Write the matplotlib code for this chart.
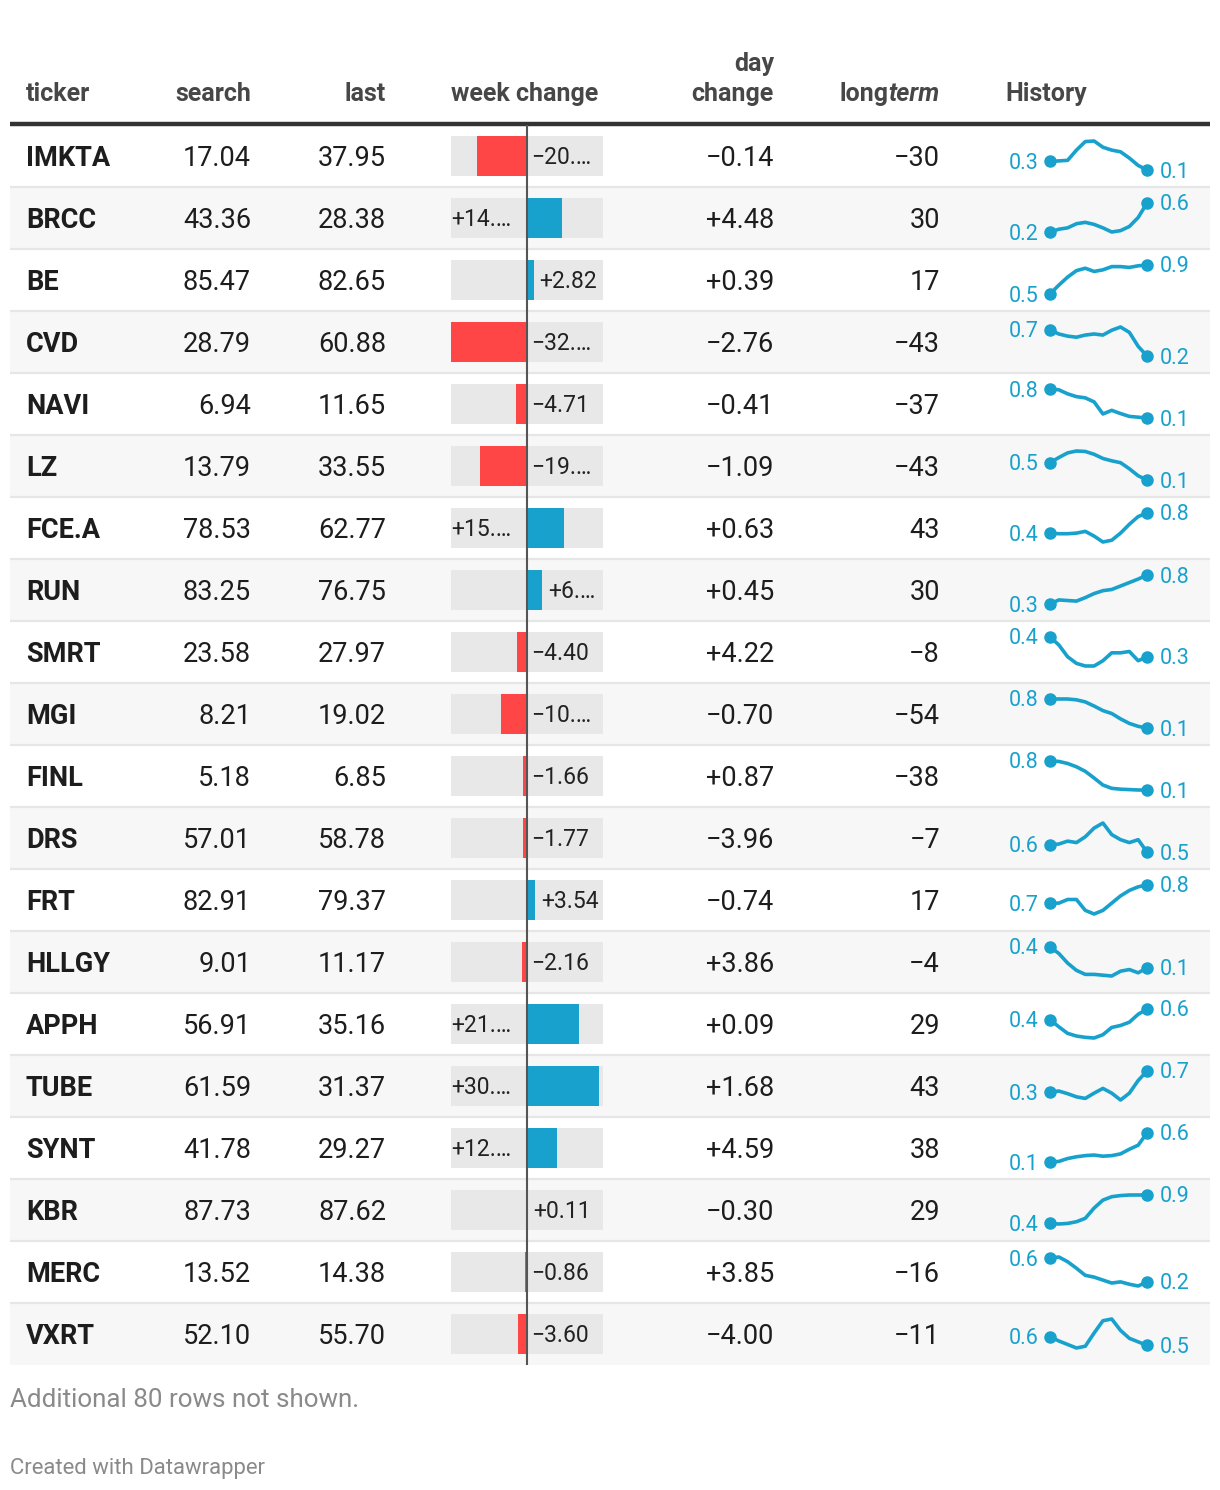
import matplotlib

matplotlib.use("Agg")
import matplotlib.pyplot as plt
from matplotlib.patches import Rectangle

plt.rcParams["font.family"] = ["Roboto", "DejaVu Sans"]

tickers = ["IMKTA", "BRCC", "BE", "CVD", "NAVI", "LZ", "FCE.A", "RUN", "SMRT", "MGI",
           "FINL", "DRS", "FRT", "HLLGY", "APPH", "TUBE", "SYNT", "KBR", "MERC", "VXRT"]
search = [17.04, 43.36, 85.47, 28.79, 6.94, 13.79, 78.53, 83.25, 23.58, 8.21,
          5.18, 57.01, 82.91, 9.01, 56.91, 61.59, 41.78, 87.73, 13.52, 52.10]
last = [37.95, 28.38, 82.65, 60.88, 11.65, 33.55, 62.77, 76.75, 27.97, 19.02,
        6.85, 58.78, 79.37, 11.17, 35.16, 31.37, 29.27, 87.62, 14.38, 55.70]
week_change = [-20.91, 14.98, 2.82, -32.09, -4.71, -19.76, 15.76, 6.50, -4.40, -10.81,
               -1.66, -1.77, 3.54, -2.16, 21.75, 30.22, 12.51, 0.11, -0.86, -3.60]
day_change = [-0.14, 4.48, 0.39, -2.76, -0.41, -1.09, 0.63, 0.45, 4.22, -0.70,
              0.87, -3.96, -0.74, 3.86, 0.09, 1.68, 4.59, -0.30, 3.85, -4.00]
longterm = [-30, 30, 17, -43, -37, -43, 43, 30, -8, -54,
            -38, -7, 17, -4, 29, 43, 38, 29, -16, -11]
history = [
    [0.27, 0.28, 0.29, 0.47, 0.62, 0.63, 0.52, 0.47, 0.44, 0.33, 0.20, 0.12],
    [0.20, 0.24, 0.26, 0.32, 0.34, 0.31, 0.26, 0.20, 0.22, 0.28, 0.41, 0.62],
    [0.52, 0.63, 0.73, 0.81, 0.84, 0.80, 0.82, 0.86, 0.86, 0.85, 0.87, 0.88],
    [0.67, 0.59, 0.55, 0.53, 0.57, 0.59, 0.57, 0.66, 0.72, 0.62, 0.36, 0.18],
    [0.82, 0.80, 0.70, 0.63, 0.60, 0.50, 0.20, 0.29, 0.21, 0.14, 0.12, 0.10],
    [0.49, 0.60, 0.70, 0.74, 0.73, 0.67, 0.58, 0.53, 0.49, 0.36, 0.21, 0.12],
    [0.44, 0.43, 0.43, 0.44, 0.47, 0.39, 0.29, 0.32, 0.44, 0.59, 0.72, 0.78],
    [0.30, 0.37, 0.36, 0.35, 0.41, 0.48, 0.53, 0.55, 0.61, 0.67, 0.73, 0.80],
    [0.42, 0.36, 0.27, 0.22, 0.20, 0.20, 0.24, 0.30, 0.30, 0.31, 0.24, 0.27],
    [0.80, 0.80, 0.80, 0.78, 0.73, 0.63, 0.52, 0.45, 0.32, 0.21, 0.14, 0.10],
    [0.80, 0.79, 0.74, 0.66, 0.55, 0.39, 0.22, 0.14, 0.12, 0.11, 0.10, 0.10],
    [0.58, 0.59, 0.63, 0.61, 0.69, 0.81, 0.88, 0.72, 0.65, 0.61, 0.65, 0.48],
    [0.71, 0.71, 0.73, 0.73, 0.67, 0.65, 0.67, 0.71, 0.75, 0.78, 0.80, 0.81],
    [0.38, 0.30, 0.18, 0.09, 0.04, 0.04, 0.03, 0.02, 0.08, 0.10, 0.06, 0.12],
    [0.42, 0.31, 0.21, 0.17, 0.15, 0.14, 0.19, 0.30, 0.33, 0.38, 0.50, 0.58],
    [0.31, 0.33, 0.28, 0.22, 0.19, 0.29, 0.38, 0.29, 0.16, 0.29, 0.53, 0.71],
    [0.12, 0.13, 0.18, 0.21, 0.23, 0.24, 0.22, 0.23, 0.26, 0.34, 0.41, 0.62],
    [0.41, 0.40, 0.41, 0.44, 0.50, 0.68, 0.82, 0.88, 0.90, 0.91, 0.91, 0.91],
    [0.61, 0.63, 0.55, 0.44, 0.32, 0.29, 0.24, 0.19, 0.21, 0.17, 0.14, 0.21],
    [0.58, 0.53, 0.49, 0.45, 0.47, 0.62, 0.76, 0.78, 0.65, 0.56, 0.52, 0.48],
]

W, H = 1220, 1490
TOP = 125
ROW_H = 62
TEXT = "#1d1d1d"
HEAD = "#474747"
BLUE = "#18a1cd"
RED = "#ff4646"
BODY_PT = 19.5
HEAD_PT = 18.0
n = len(tickers)


def fmt_num(v, sign=False, dec=2):
    s = f"{v:+.{dec}f}" if sign else f"{v:.{dec}f}"
    return s.replace("-", "\u2212")


def text_px(s, em=23):
    widths = {".": 0.263, "+": 0.567, "\u2212": 0.567, "\u2026": 0.7}
    return sum(widths.get(c, 0.562) for c in s) * em


fig = plt.figure(figsize=(W / 100, H / 100), dpi=100)
ax = fig.add_axes([0, 0, 1, 1])
ax.set_xlim(0, W)
ax.set_ylim(H, 0)
ax.axis("off")

# header
hkw = dict(fontsize=HEAD_PT, fontweight="bold", color=HEAD, va="baseline")
ax.text(26, 101, "ticker", ha="left", **hkw)
ax.text(251, 101, "search", ha="right", **hkw)
ax.text(386, 101, "last", ha="right", **hkw)
ax.text(451, 101, "week change", ha="left", **hkw)
ax.text(774, 71, "day", ha="right", **hkw)
ax.text(774, 101, "change", ha="right", **hkw)
term = ax.text(940, 101, "term", ha="right", style="italic", **hkw)
ax.annotate("long", xy=(0, 0), xycoords=term, ha="right", va="bottom",
            fontsize=HEAD_PT, fontweight="bold", color=HEAD)
ax.text(1005, 101, "History", ha="left", **hkw)
ax.hlines(124, 10, 1210, color="#333333", lw=3.2)

# rows
for i in range(n):
    top = TOP + i * ROW_H
    if i % 2 == 1:
        ax.add_patch(Rectangle((10, top), 1200, ROW_H, color="#f7f7f7", lw=0, zorder=0))
    if i < n - 1:
        ax.hlines(top + ROW_H, 10, 1210, color="#e6e6e6", lw=1.6, zorder=1)
    yb = top + ROW_H / 2 + 10
    ax.text(26, yb, tickers[i], ha="left", va="baseline", fontsize=BODY_PT,
            fontweight="bold", color=TEXT)
    ax.text(251, yb, fmt_num(search[i]), ha="right", va="baseline", fontsize=BODY_PT, color=TEXT)
    ax.text(386, yb, fmt_num(last[i]), ha="right", va="baseline", fontsize=BODY_PT, color=TEXT)
    ax.text(774, yb, fmt_num(day_change[i], sign=True), ha="right", va="baseline",
            fontsize=BODY_PT, color=TEXT)
    ax.text(940, yb, str(longterm[i]).replace("-", "\u2212"), ha="right", va="baseline",
            fontsize=BODY_PT, color=TEXT)

# week change bars
M = max(abs(v) for v in week_change)
wx0, wx1 = 451, 603
half_px = (wx1 - wx0) / 2
ax_w = fig.add_axes([wx0 / W, 1 - (TOP + n * ROW_H) / H, (wx1 - wx0) / W, n * ROW_H / H])
ax_w.set_xlim(-M, M)
ax_w.set_ylim(n - 0.5, -0.5)
ax_w.axis("off")
bh = 40 / ROW_H
ax_w.barh(range(n), [2 * M] * n, left=-M, height=bh, color="#e8e8e8", lw=0, zorder=1)
ax_w.barh(range(n), week_change, height=bh, lw=0, zorder=2,
          color=[RED if v < 0 else BLUE for v in week_change])
ax_w.axvline(0, color="#555555", lw=1.5, zorder=3)
for i, v in enumerate(week_change):
    label = fmt_num(v, sign=True)
    bar_px = abs(v) / M * half_px
    if v < 0:
        x, dx, avail = 0, 3.0, half_px - 7
    elif bar_px < 25:
        x, dx, avail = v, 4.0, half_px - bar_px - 8
    else:
        x, dx, avail = -M, 0.0, half_px - 6
    if text_px(label) > avail:
        label = label.split(".")[0] + ".\u2026"
    ax_w.annotate(label, xy=(x, i), xytext=(dx, -5.9), textcoords="offset points",
                  ha="left", va="baseline", fontsize=16.5, color="#222222", zorder=4)

# history sparklines
sx0, sx1 = 1050, 1147
for i, vals in enumerate(history):
    top = TOP + i * ROW_H
    ax_s = fig.add_axes([sx0 / W, 1 - (top + 45) / H, (sx1 - sx0) / W, 29 / H])
    ax_s.axis("off")
    xs = range(len(vals))
    ax_s.set_xlim(0, len(vals) - 1)
    ax_s.set_ylim(min(vals), max(vals))
    ax_s.plot(xs, vals, color=BLUE, lw=2.6, solid_joinstyle="round",
              solid_capstyle="round", clip_on=False)
    ax_s.plot([0, len(vals) - 1], [vals[0], vals[-1]], "o", color=BLUE, ms=8,
              clip_on=False)
    ax_s.annotate(f"{vals[0]:.1f}", xy=(0, vals[0]), xytext=(-8.5, -5.4),
                  textcoords="offset points", ha="right", va="baseline",
                  fontsize=15.5, color=BLUE, annotation_clip=False)
    ax_s.annotate(f"{vals[-1]:.1f}", xy=(len(vals) - 1, vals[-1]), xytext=(9, -5.4),
                  textcoords="offset points", ha="left", va="baseline",
                  fontsize=15.5, color=BLUE, annotation_clip=False)

# footer
ax.text(10, 1407, "Additional 80 rows not shown.", ha="left", va="baseline",
        fontsize=18.7, color="#8a8a8a")
ax.text(10, 1474, "Created with Datawrapper", ha="left", va="baseline",
        fontsize=15.9, color="#8a8a8a")

fig.savefig("out.png", dpi=100)
